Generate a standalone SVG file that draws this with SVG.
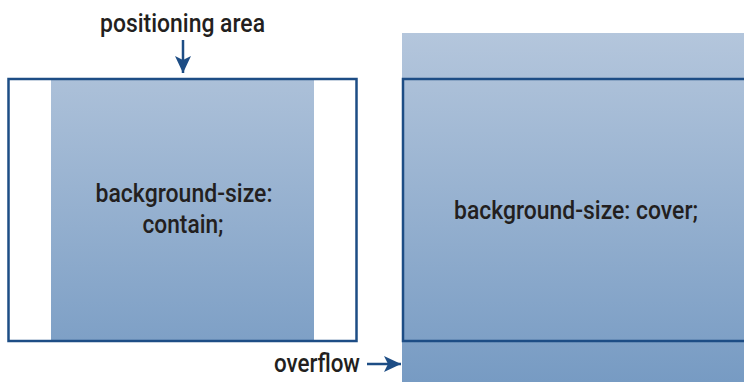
<svg xmlns="http://www.w3.org/2000/svg" width="744" height="382" viewBox="0 0 744 382">
<style>
.lbl{font-family:Roboto,"Liberation Sans",Arial,sans-serif;font-weight:500;font-size:26px;fill:#231f20;}
.frame{fill:none;stroke:#1d4d85;stroke-width:2.5;}
.conn{stroke:#1d4d85;stroke-width:2.5;fill:none;}
</style>
<defs>
<linearGradient id="bg" gradientUnits="userSpaceOnUse" x1="0" y1="33" x2="0" y2="382">
<stop offset="0" stop-color="#b4c6dc"/>
<stop offset="1" stop-color="#779bc3"/>
</linearGradient>
<marker id="ah" markerUnits="userSpaceOnUse" markerWidth="18" markerHeight="18" viewBox="0 0 18 18" refX="17" refY="9" orient="auto">
<path d="M0,1 L17,9 L0,17 L4,9 Z" fill="#1d4d85"/>
</marker>
</defs>
<g id="contain-node">
<rect x="51" y="78" width="263" height="264" fill="url(#bg)"/>
<rect class="frame" x="8.5" y="79" width="348" height="262"/>
<text class="lbl" x="184" y="202" text-anchor="middle" textLength="177" lengthAdjust="spacingAndGlyphs">background-size:</text>
<text class="lbl" x="183" y="233" text-anchor="middle" textLength="81" lengthAdjust="spacingAndGlyphs">contain;</text>
</g>
<g id="cover-node">
<rect x="402" y="33" width="342" height="349" fill="url(#bg)"/>
<rect class="frame" x="403" y="79" width="345" height="262"/>
<text class="lbl" x="576" y="219" text-anchor="middle" textLength="244" lengthAdjust="spacingAndGlyphs">background-size: cover;</text>
</g>
<g id="positioning-label">
<text class="lbl" x="182.5" y="32" text-anchor="middle" textLength="165" lengthAdjust="spacingAndGlyphs">positioning area</text>
</g>
<g id="overflow-label">
<text class="lbl" x="317" y="372" text-anchor="middle" textLength="86" lengthAdjust="spacingAndGlyphs">overflow</text>
</g>
<g id="connectors">
<line class="conn" x1="183" y1="40" x2="183" y2="73" marker-end="url(#ah)"/>
<line class="conn" x1="367" y1="364" x2="401" y2="364" marker-end="url(#ah)"/>
</g>
</svg>
